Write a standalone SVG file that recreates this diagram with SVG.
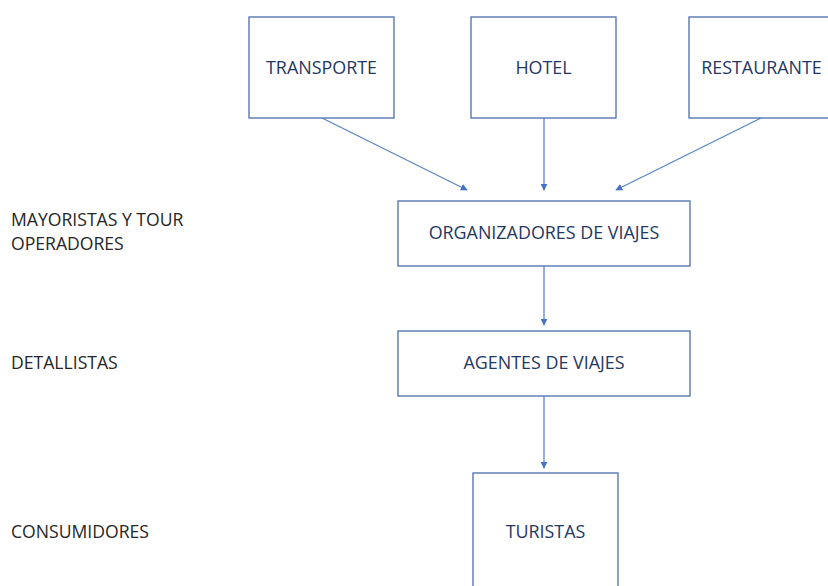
<svg xmlns="http://www.w3.org/2000/svg" width="828" height="586" viewBox="0 0 828 586">
<defs>
<style>
.box{fill:#fff;stroke:#4a6ead;stroke-width:1.3}
.t{font-family:"Open Sans","Liberation Sans",sans-serif;font-size:17.9px;font-weight:500;fill:#1f3864;text-anchor:middle}
.l{font-family:"Open Sans","Liberation Sans",sans-serif;font-size:17.6px;font-weight:500;fill:#262626}
.c{stroke:#5b84cc;stroke-width:1.3;fill:none;marker-end:url(#ah)}
</style>
<marker id="ah" viewBox="0 0 10 10" refX="9" refY="5" markerWidth="7" markerHeight="7" markerUnits="userSpaceOnUse" orient="auto"><path d="M0,0 L10,5 L0,10 z" fill="#4472c4"/></marker>
</defs>
<rect width="828" height="586" fill="#fff"/>
<g id="labels">
<text class="l" x="11" y="226">MAYORISTAS Y TOUR</text>
<text class="l" x="11" y="250">OPERADORES</text>
<text class="l" x="11" y="368.5">DETALLISTAS</text>
<text class="l" x="11" y="537.5">CONSUMIDORES</text>
</g>
<g id="connectors">
<line class="c" x1="322" y1="118" x2="467" y2="190"/>
<line class="c" x1="544" y1="118" x2="544" y2="190"/>
<line class="c" x1="761" y1="118" x2="616" y2="190"/>
<line class="c" x1="544" y1="266" x2="544" y2="325"/>
<line class="c" x1="544" y1="396" x2="544" y2="468"/>
</g>
<g id="transporte"><rect class="box" x="249" y="17" width="145" height="101"/><text class="t" x="321.5" y="74">TRANSPORTE</text></g>
<g id="hotel"><rect class="box" x="471" y="17" width="145" height="101"/><text class="t" x="543.5" y="74">HOTEL</text></g>
<g id="restaurante"><rect class="box" x="689" y="17" width="145" height="101"/><text class="t" x="761.5" y="74">RESTAURANTE</text></g>
<g id="organizadores"><rect class="box" x="398" y="201" width="292" height="65"/><text class="t" x="544" y="239">ORGANIZADORES DE VIAJES</text></g>
<g id="agentes"><rect class="box" x="398" y="331" width="292" height="65"/><text class="t" x="544" y="369">AGENTES DE VIAJES</text></g>
<g id="turistas"><rect class="box" x="473" y="473" width="145" height="120"/><text class="t" x="545.5" y="537.5">TURISTAS</text></g>
</svg>
